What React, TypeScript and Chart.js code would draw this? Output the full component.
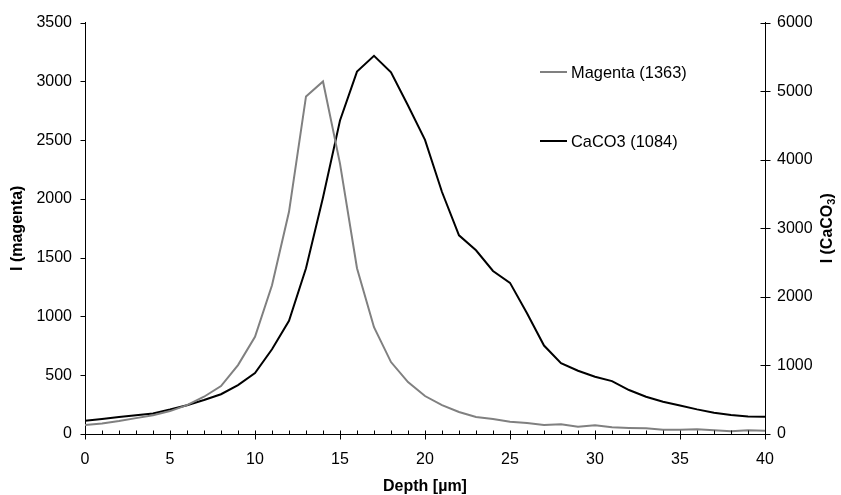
import React, { useEffect, useRef } from "react";
import { Chart, registerables } from "chart.js";

Chart.register(...registerables);

const depth = [0, 1, 2, 3, 4, 5, 6, 7, 8, 9, 10, 11, 12, 13, 14, 15, 16, 17, 18, 19, 20, 21, 22, 23, 24, 25, 26, 27, 28, 29, 30, 31, 32, 33, 34, 35, 36, 37, 38, 39, 40];
const magenta = [76, 90, 110, 135, 159, 195, 246, 317, 408, 586, 827, 1266, 1890, 2872, 2999, 2300, 1410, 909, 612, 442, 323, 246, 187, 144, 127, 104, 93, 76, 82, 62, 74, 57, 51, 48, 37, 37, 40, 31, 23, 31, 28];
const caco3 = [194, 220, 248, 275, 300, 357, 420, 495, 580, 713, 888, 1235, 1650, 2417, 3450, 4573, 5286, 5515, 5276, 4790, 4290, 3529, 2898, 2680, 2378, 2204, 1760, 1290, 1034, 922, 835, 772, 641, 544, 471, 417, 359, 311, 277, 257, 252];
const seriesLabels = ["Magenta (1363)", "CaCO3 (1084)"];
const xTitle = "Depth [µm]";
const yLeftTitle = "I (magenta)";
const yRightTitleParts = ["I (CaCO", "3", ")"];

const FONT = "Arial, 'Liberation Sans', sans-serif";

const ticksPlugin = {
  id: "customTicks",
  afterDraw(chart: any) {
    const ctx = chart.ctx;
    const x = chart.scales.x;
    const yl = chart.scales.y;
    const yr = chart.scales.y1;
    ctx.save();
    ctx.strokeStyle = "#000";
    ctx.lineWidth = 1;
    ctx.beginPath();
    const bottom = Math.round(x.top) + 0.5;
    for (let v = 0; v <= 40; v++) {
      const px = Math.round(x.getPixelForValue(v)) + 0.5;
      if (v % 5 === 0) {
        ctx.moveTo(px, bottom - 4);
        ctx.lineTo(px, bottom + 5);
      } else {
        ctx.moveTo(px, bottom - 4);
        ctx.lineTo(px, bottom);
      }
    }
    const lx = Math.round(yl.right) + 0.5;
    for (let v = 0; v <= 3500; v += 500) {
      const py = Math.round(yl.getPixelForValue(v)) + 0.5;
      ctx.moveTo(lx - 5, py);
      ctx.lineTo(lx, py);
    }
    const rx = Math.round(yr.left) + 0.5;
    for (let v = 0; v <= 6000; v += 1000) {
      const py = Math.round(yr.getPixelForValue(v)) + 0.5;
      ctx.moveTo(rx - 5, py);
      ctx.lineTo(rx + 5, py);
    }
    ctx.stroke();

    // right axis title, reading bottom-to-top, with subscript
    const cx = yr.right - 13;
    const cy = (yr.top + yr.bottom) / 2;
    ctx.translate(cx, cy);
    ctx.rotate(-Math.PI / 2);
    ctx.fillStyle = "#000";
    ctx.textBaseline = "middle";
    ctx.textAlign = "left";
    const big = "bold 16px " + FONT;
    const small = "bold 11px " + FONT;
    ctx.font = big;
    const w0 = ctx.measureText(yRightTitleParts[0]).width;
    const w2 = ctx.measureText(yRightTitleParts[2]).width;
    ctx.font = small;
    const w1 = ctx.measureText(yRightTitleParts[1]).width;
    const total = w0 + w1 + w2;
    let sx = -total / 2;
    ctx.font = big;
    ctx.fillText(yRightTitleParts[0], sx, 0);
    sx += w0;
    ctx.font = small;
    ctx.fillText(yRightTitleParts[1], sx, 4);
    sx += w1;
    ctx.font = big;
    ctx.fillText(yRightTitleParts[2], sx, 0);
    ctx.restore();
  },
};

const legendPlugin = {
  id: "customLegend",
  afterDraw(chart: any) {
    const ctx = chart.ctx;
    const positions = [72, 141];
    ctx.save();
    ctx.font = "16.4px " + FONT;
    ctx.textBaseline = "middle";
    ctx.textAlign = "left";
    chart.data.datasets.forEach((ds: any, i: number) => {
      const y = positions[i];
      ctx.strokeStyle = ds.borderColor;
      ctx.lineWidth = 2;
      ctx.beginPath();
      ctx.moveTo(540, y);
      ctx.lineTo(567, y);
      ctx.stroke();
      ctx.fillStyle = "#000";
      ctx.fillText(ds.label, 571, y + 1);
    });
    ctx.restore();
  },
};

const plain = (v: any) => String(v);

export default function App() {
  const ref = useRef<HTMLCanvasElement>(null);
  useEffect(() => {
    document.body.style.margin = "0";
    const canvas = ref.current!;
    const chart = new Chart(canvas, {
      type: "line",
      data: {
        datasets: [
          {
            label: seriesLabels[0],
            data: depth.map((d, i) => ({ x: d, y: magenta[i] })),
            borderColor: "#808080",
            borderWidth: 2,
            pointRadius: 0,
            tension: 0,
            yAxisID: "y",
          },
          {
            label: seriesLabels[1],
            data: depth.map((d, i) => ({ x: d, y: caco3[i] })),
            borderColor: "#000000",
            borderWidth: 2,
            pointRadius: 0,
            tension: 0,
            yAxisID: "y1",
          },
        ],
      },
      options: {
        responsive: false,
        animation: false,
        layout: { padding: { top: 22, left: 0, right: 0, bottom: 0 } },
        plugins: { legend: { display: false }, tooltip: { enabled: false } },
        scales: {
          x: {
            type: "linear",
            min: 0,
            max: 40,
            ticks: { stepSize: 5, color: "#000", font: { size: 16, family: FONT }, padding: 16, maxRotation: 0, callback: plain },
            grid: { display: false, drawTicks: false },
            border: { display: true, color: "#000", width: 1 },
            title: { display: true, text: xTitle, color: "#000", font: { size: 16, weight: "bold", family: FONT, lineHeight: 1 }, padding: { top: 0, bottom: 0 } },
            afterFit: (s: any) => { s.height = 61; },
          },
          y: {
            type: "linear",
            position: "left",
            min: 0,
            max: 3500,
            ticks: { stepSize: 500, color: "#000", font: { size: 16, family: FONT }, padding: 13, callback: plain },
            grid: { display: false, drawTicks: false },
            border: { display: true, color: "#000", width: 1 },
            title: { display: true, text: yLeftTitle, color: "#000", font: { size: 16, weight: "bold", family: FONT, lineHeight: 1 }, padding: { top: 10, bottom: 0 } },
            afterFit: (s: any) => { s.width = 85; },
          },
          y1: {
            type: "linear",
            position: "right",
            min: 0,
            max: 6000,
            ticks: { stepSize: 1000, color: "#000", font: { size: 16, family: FONT }, padding: 12, callback: plain },
            grid: { display: false, drawTicks: false },
            border: { display: true, color: "#000", width: 1 },
            title: { display: false },
            afterFit: (s: any) => { s.width = 76; },
          },
        },
      },
      plugins: [ticksPlugin, legendPlugin],
    });
    return () => chart.destroy();
  }, []);
  return (
    <div style={{ width: 841, height: 495, background: "#fff" }}>
      <canvas ref={ref} width={841} height={495} />
    </div>
  );
}
